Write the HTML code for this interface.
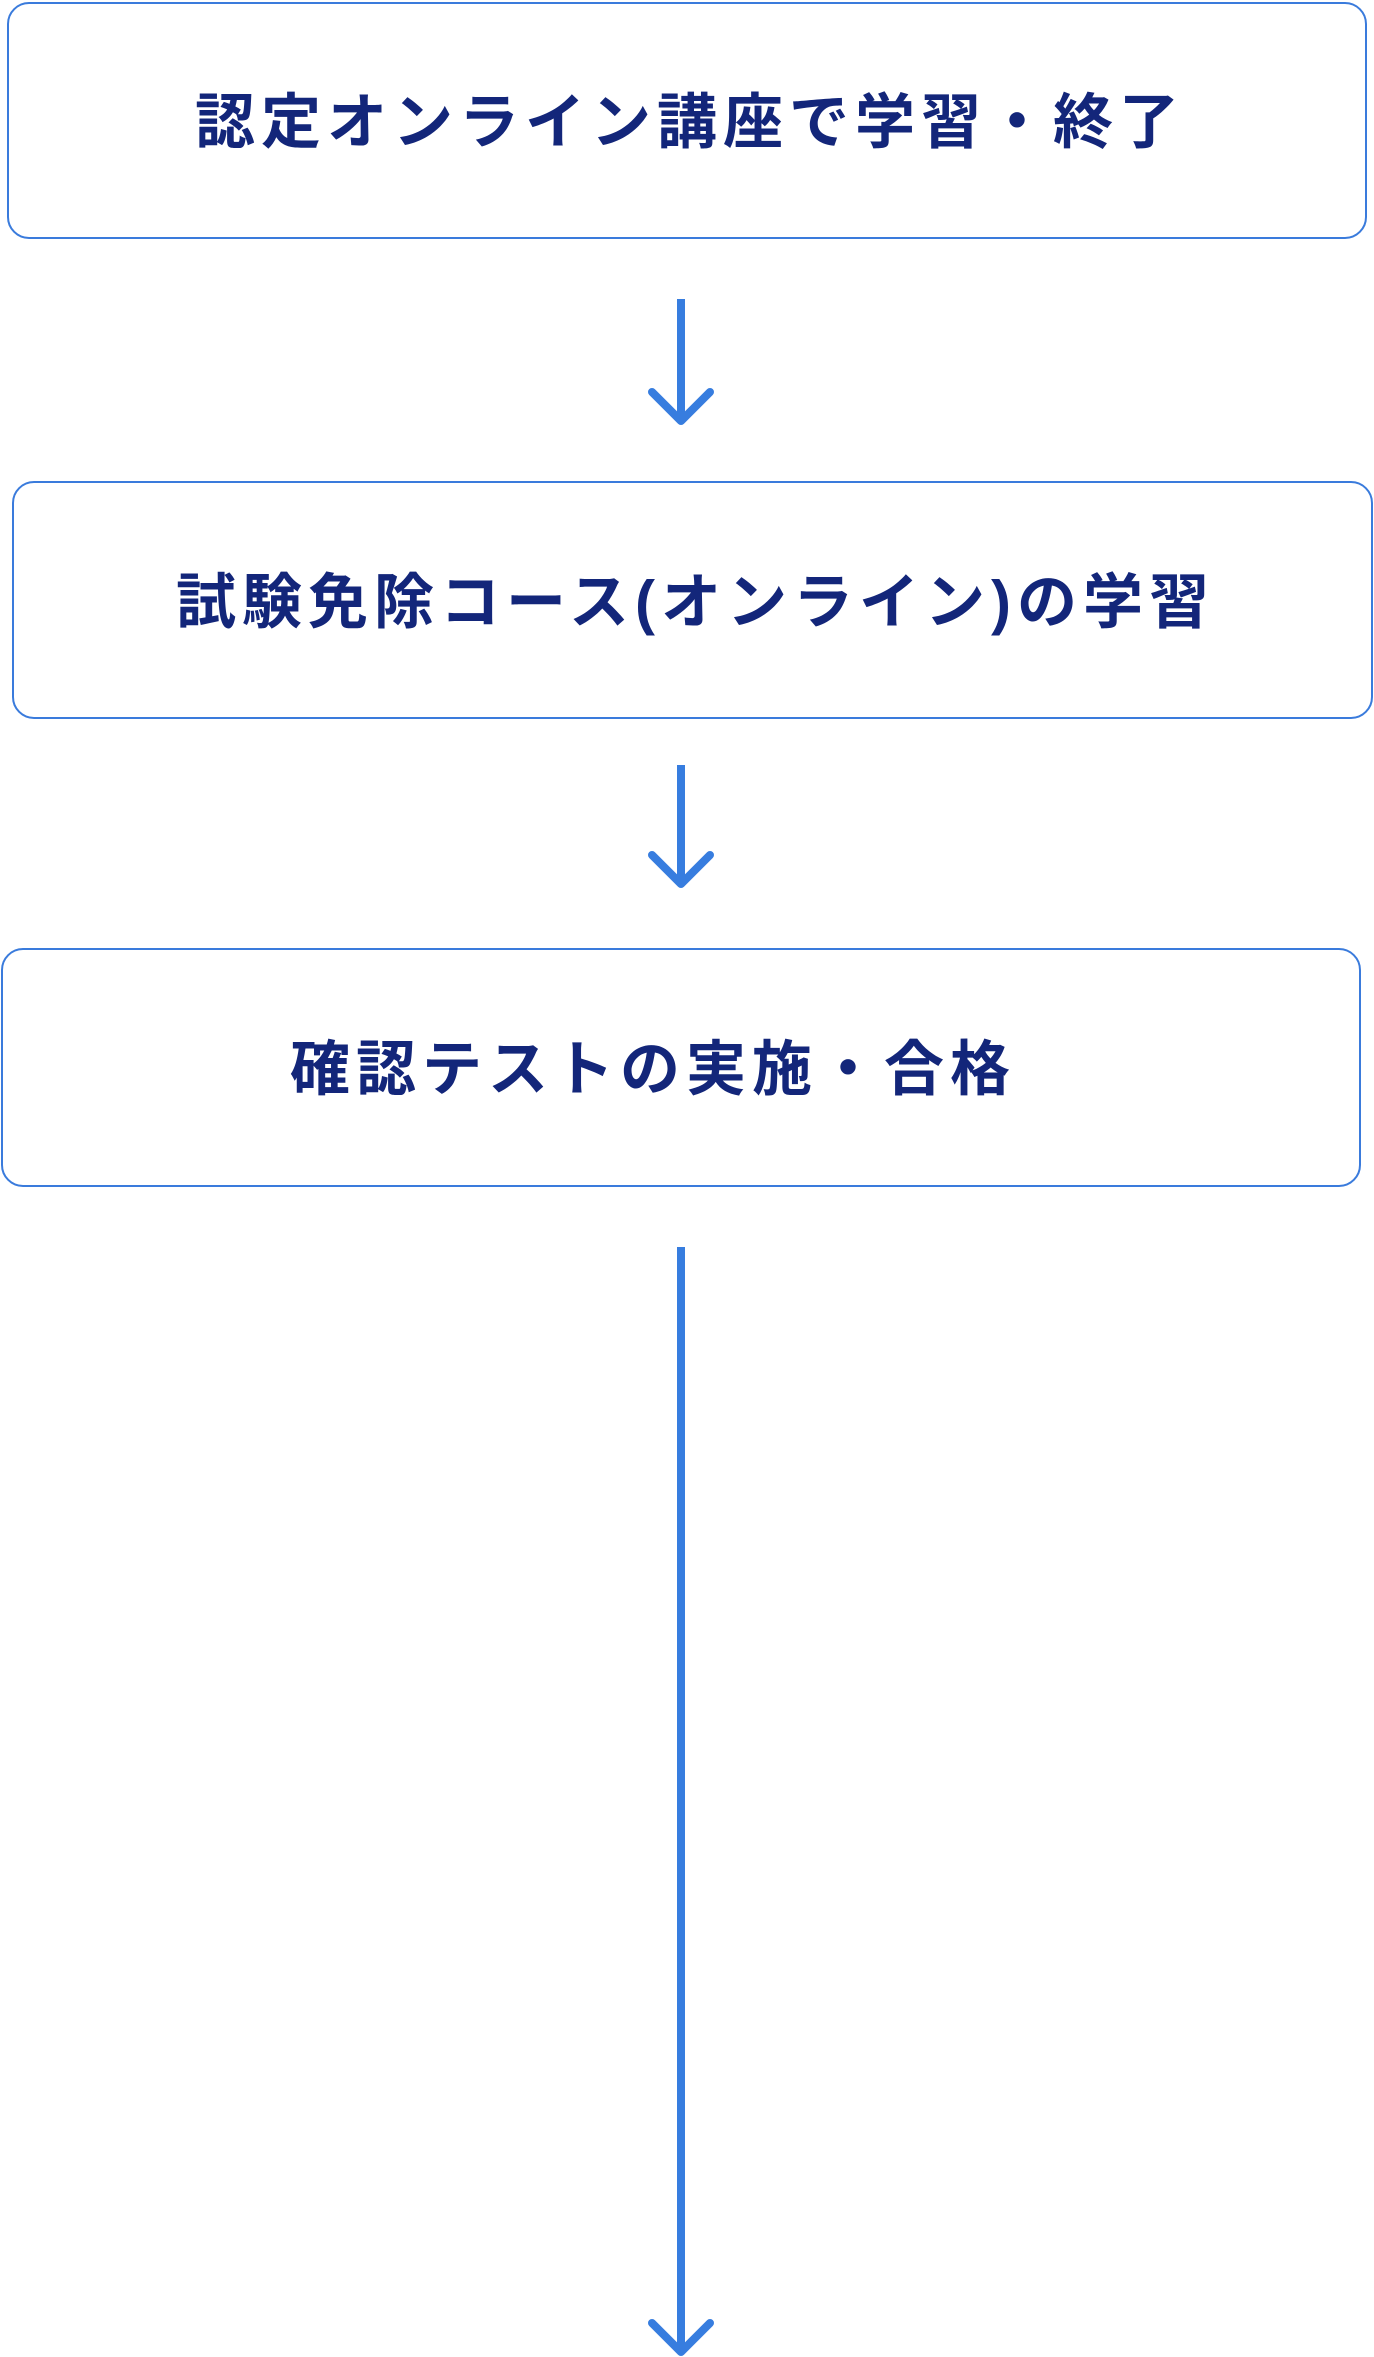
<!DOCTYPE html>
<html><head><meta charset="utf-8"><style>
html,body{margin:0;padding:0;background:#fff;}
body{width:1374px;height:2357px;position:relative;overflow:hidden;font-family:"Liberation Sans","Noto Sans CJK JP",sans-serif;}
.box{position:absolute;box-sizing:border-box;border:2.5px solid #3a7bdc;border-radius:22px;display:flex;align-items:center;justify-content:center;color:#13267a;font-weight:bold;font-size:60px;letter-spacing:6px;white-space:nowrap;}
.box span{margin-right:-6px;margin-top:-6px;}
svg{position:absolute;left:0;top:0;}
</style></head><body>
<div class="box" style="left:7px;top:2px;width:1360px;height:237px;"><span>認定オンライン講座で学習・終了</span></div>
<div class="box" style="left:12px;top:481px;width:1361px;height:238px;"><span>試験免除コース(オンライン)の学習</span></div>
<div class="box" style="left:1px;top:948px;width:1360px;height:239px;"><span style="position:relative;left:-31px;">確認テストの実施・合格</span></div>
<svg width="1374" height="2357" viewBox="0 0 1374 2357">
<g stroke="#377ddf" stroke-width="8" fill="none" stroke-linecap="round" stroke-linejoin="round">
<line x1="681" y1="299" x2="681" y2="420" stroke-linecap="butt"/>
<polyline points="652,392 681,421 710,392"/>
<line x1="681" y1="765" x2="681" y2="884" stroke-linecap="butt"/>
<polyline points="652,855 681,884 710,855"/>
<line x1="681" y1="1247" x2="681" y2="2351" stroke-linecap="butt"/>
<polyline points="652,2323 681,2352 710,2323"/>
</g>
</svg>
</body></html>
